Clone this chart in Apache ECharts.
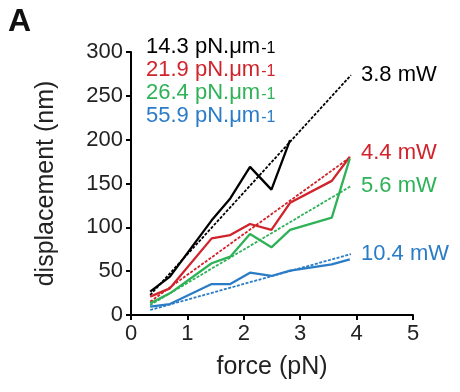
<!DOCTYPE html>
<html><head><meta charset="utf-8">
<script src="https://cdn.jsdelivr.net/npm/echarts@6/dist/echarts.min.js"></script>
<style>html,body{margin:0;padding:0;background:#fff}#c{width:460px;height:392px}</style>
</head><body><div id="c"></div>
<script>
const force = [0.34, 0.69, 1.43, 1.76, 2.11, 2.49, 2.82, 3.56, 3.88];
const dispBlack = [26.6, 43.7, 108, 133, 169, 143, 199.5];
const dispRed = [20.9, 30.4, 87.4, 91.2, 103.8, 97, 128, 153, 180.5];
const dispGreen = [13.3, 24.7, 59, 66.5, 92.4, 77.2, 97, 111, 178.6];
const dispBlue = [9.5, 12.5, 35.3, 35.3, 48.3, 44.5, 50.5, 57.8, 63.5];
const fitForce = [0.34, 3.9];
const fitBlack = [22.8, 273.6];
const fitRed = [15.2, 180.5];
const fitGreen = [11.4, 147];
const fitBlue = [5.7, 69.5];
const stiffness = ['14.3 pN.μm', '21.9 pN.μm', '26.4 pN.μm', '55.9 pN.μm'];
const powers = ['3.8 mW', '4.4 mW', '5.6 mW', '10.4 mW'];
const colors = ['#000000', '#d0232b', '#2fb257', '#2a7cc6'];
const xTicks = [0, 5, 1];
const yTicks = [0, 300, 50];

const pair = (xs, ys) => ys.map((y, i) => [xs[i], y]);
const raws = [dispBlack, dispRed, dispGreen, dispBlue];
const fits = [fitBlack, fitRed, fitGreen, fitBlue];
const FONT = 'Liberation Sans, Arial, sans-serif';
const series = [];
raws.forEach((d, i) => {
  series.push({name: stiffness[i], type: 'line', data: pair(force, d), symbol: 'none',
    lineStyle: {color: colors[i], width: 2.3}, itemStyle: {color: colors[i]}, z: 3});
});
fits.forEach((d, i) => {
  series.push({name: 'fit' + i, type: 'line', data: pair(fitForce, d), symbol: 'none',
    lineStyle: {color: colors[i], width: 1.8, type: [3, 1.5]}, z: 2,
    endLabel: {show: true, formatter: powers[i], color: colors[i], fontSize: 22, fontFamily: FONT,
      distance: 10, offset: [0, i === 1 ? -4 : 0]}});
});
const chart = echarts.init(document.getElementById('c'), null, {renderer: 'canvas'});
chart.setOption({
  animation: false,
  backgroundColor: '#fff',
  grid: {left: 131, top: 52, right: 47, bottom: 77, containLabel: false},
  legend: {
    orient: 'vertical', left: 136, top: 30, icon: 'none', itemWidth: 0, itemHeight: 24, itemGap: 0,
    selectedMode: false,
    data: stiffness.map((n, i) => ({name: n, textStyle: {color: colors[i]}})),
    formatter: n => '{a|' + n + '}{b|-1}',
    textStyle: {fontSize: 22, fontFamily: FONT,
      rich: {a: {fontSize: 22, fontFamily: FONT}, b: {fontSize: 16, fontFamily: FONT, verticalAlign: 'bottom', padding: [0, 0, 1, 1]}}}
  },
  xAxis: {
    type: 'value', min: xTicks[0], max: xTicks[1], interval: xTicks[2],
    name: 'force (pN)', nameLocation: 'middle', nameGap: 40,
    nameTextStyle: {fontSize: 25, color: '#222', fontFamily: FONT},
    axisLine: {show: true, lineStyle: {color: '#000', width: 2}},
    axisTick: {show: true, inside: false, length: 5, lineStyle: {color: '#000', width: 2}},
    axisLabel: {fontSize: 22, color: '#222', fontFamily: FONT, margin: 8},
    splitLine: {show: false}
  },
  yAxis: {
    type: 'value', min: yTicks[0], max: yTicks[1], interval: yTicks[2],
    name: 'displacement (nm)', nameLocation: 'middle', nameGap: 72, nameRotate: 90,
    nameTextStyle: {fontSize: 25, color: '#222', fontFamily: FONT},
    axisLine: {show: true, lineStyle: {color: '#000', width: 2}},
    axisTick: {show: true, inside: false, length: 5, lineStyle: {color: '#000', width: 2}},
    axisLabel: {fontSize: 22, color: '#222', fontFamily: FONT, margin: 8},
    splitLine: {show: false}
  },
  graphic: [{type: 'text', left: 8, top: 6, style: {text: 'A', fontSize: 32, fontWeight: 'bold', fill: '#111', font: 'bold 32px ' + FONT}}],
  series: series
});
</script></body></html>
